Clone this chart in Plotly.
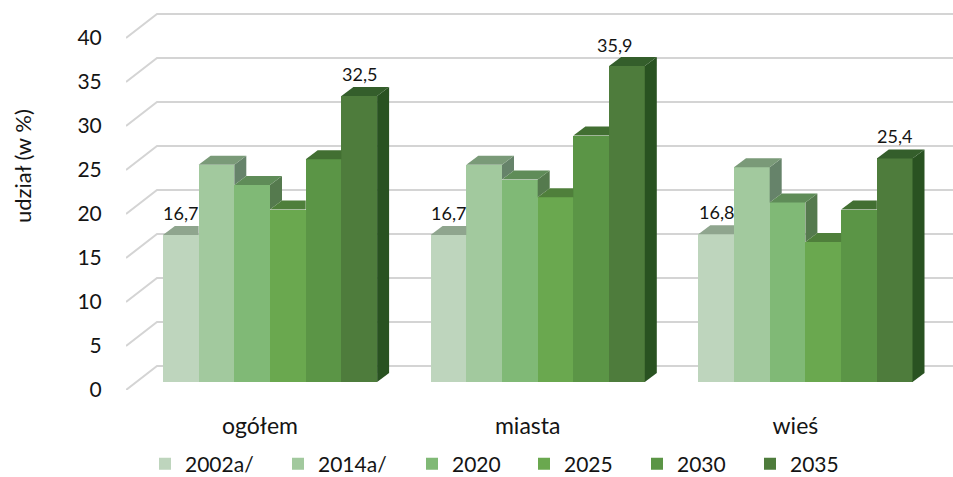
import plotly.graph_objects as go

categories = ["ogółem", "miasta", "wieś"]
series_names = ["2002a/", "2014a/", "2020", "2025", "2030", "2035"]
v2002 = [16.7, 16.7, 16.8]
v2014 = [24.7, 24.7, 24.4]
v2020 = [22.4, 23.0, 20.4]
v2025 = [19.6, 21.0, 15.9]
v2030 = [25.3, 28.0, 19.6]
v2035 = [32.5, 35.9, 25.4]
series_values = [v2002, v2014, v2020, v2025, v2030, v2035]
y_ticks = [0, 5, 10, 15, 20, 25, 30, 35, 40]
labelled_series = [0, 5]

front_colors = ["#BED5BD", "#A2C99E", "#80B976", "#6AA84F", "#5B9546", "#4E7C3C"]
top_colors = ["#8FA58E", "#7A9A78", "#5F8C58", "#4F7F3B", "#426F32", "#345E2B"]
side_colors = ["#758A74", "#66836A", "#557A4E", "#456D35", "#3A612C", "#295221"]
grid_color = "#D4D4D4"
text_color = "#141414"
FONT = "Lato"

# figure geometry
W, H = 953, 477
PX_X = 267.7
PX_Y = 8.8
L, T, B = 126, 10, 87
x_lo = (126 - 260) / PX_X
x_hi = (953 - 260) / PX_X
y0_px = 382
front_px = H - B
y_lo = -(front_px - y0_px) / PX_Y
y_hi = (y0_px - T) / PX_Y
bw = 35.7 / PX_X
shift = 10 / PX_X
dx = 12 / PX_X
dy = 9 / PX_Y
wall_x = (157 - 260) / PX_X
wall_y = (y0_px - 366) / PX_Y

fig = go.Figure()

# front faces
for s, (name, vals) in enumerate(zip(series_names, series_values)):
    xs = [g + shift + (s - 2.5) * bw for g in range(len(categories))]
    fig.add_trace(go.Bar(
        x=xs, y=vals, width=bw, name=name,
        marker=dict(color=front_colors[s], line=dict(width=0)),
        legend=("legend" if s == 0 else f"legend{s + 1}"),
        showlegend=True,
        hoverinfo="y",
    ))

# faux depth: tops and sides, derived from the values
for g in range(len(categories)):
    for s, vals in enumerate(series_values):
        v = vals[g]
        xl = g + shift + (s - 2.5) * bw - bw / 2
        xr = xl + bw
        nxt = series_values[s + 1][g] if s < 5 else 0
        if nxt > v:
            px = [xl, xr, xr, xl + dx, xl]
            py = [v, v, v + dy, v + dy, v]
        else:
            px = [xl, xr, xr + dx, xl + dx, xl]
            py = [v, v, v + dy, v + dy, v]
            sx = [xr, xr + dx, xr + dx, xr, xr]
            sy = [v, v + dy, nxt + dy, nxt, v]
            fig.add_trace(go.Scatter(x=sx, y=sy, mode="lines", fill="toself",
                                     fillcolor=side_colors[s], line=dict(width=0),
                                     showlegend=False, hoverinfo="skip"))
        fig.add_trace(go.Scatter(x=px, y=py, mode="lines", fill="toself",
                                 fillcolor=top_colors[s], line=dict(width=0),
                                 showlegend=False, hoverinfo="skip"))

# invisible trace that carries the tick-label axis (front plane)
fig.add_trace(go.Scatter(x=[0], y=[0], yaxis="y2", mode="markers",
                         marker=dict(opacity=0), showlegend=False, hoverinfo="skip"))

# walls and grid
shapes = []
for t in y_ticks:
    shapes.append(dict(type="path", layer="below", xref="x", yref="y",
                       path=f"M{x_lo},{t + y_lo} L{wall_x},{t + wall_y} L{x_hi},{t + wall_y}",
                       line=dict(color=grid_color, width=2)))

# data labels (the tallest bar's label sits left of the bar's centre in the original)
annotations = []
for s in labelled_series:
    for g in range(len(categories)):
        v = series_values[s][g]
        tallest = v == max(max(vals) for vals in series_values)
        annotations.append(dict(
            x=g + shift + (s - 2.5) * bw, y=v, xref="x", yref="y",
            text=f"{v:.1f}".replace(".", ","), showarrow=False,
            yshift=21 if tallest else 22, xshift=-12 if tallest else 0,
            font=dict(family=FONT, size=18, color=text_color)))
annotations.append(dict(
    x=(22 - L) / (W - L), y=(H - B - 166) / (H - B - T), xref="paper", yref="paper",
    xanchor="center", yanchor="middle", text="udział (w %)",
    showarrow=False, textangle=-90,
    font=dict(family=FONT, size=22, color=text_color)))

fig.update_layout(
    width=W, height=H, barmode="overlay", bargap=0,
    paper_bgcolor="white", plot_bgcolor="white",
    margin=dict(l=L, r=0, t=T, b=B, autoexpand=False),
    font=dict(family=FONT, color=text_color),
    hovermode="closest",
    shapes=shapes, annotations=annotations,
    xaxis=dict(range=[x_lo, x_hi], tickmode="array", tickvals=list(range(len(categories))),
               ticktext=categories, ticks="outside", ticklen=15, tickcolor="white",
               showgrid=False, zeroline=False, showline=False,
               tickfont=dict(family=FONT, size=23, color=text_color)),
    yaxis=dict(range=[y_lo, y_hi], showticklabels=False, showgrid=False,
               zeroline=False, showline=False, ticks=""),
    yaxis2=dict(range=[0, y_hi - y_lo], overlaying="y", side="left",
                tickmode="array", tickvals=y_ticks, ticktext=[str(t) for t in y_ticks],
                ticks="outside", ticklen=19, tickcolor="white",
                showgrid=False, zeroline=False, showline=False,
                tickfont=dict(family=FONT, size=21, color=text_color)),
)

legend_px = [145, 278, 412, 524, 637, 750]
legend_y_px = 464
for s, px in enumerate(legend_px):
    key = "legend" if s == 0 else f"legend{s + 1}"
    fig.update_layout({key: dict(
        x=(px - L) / (W - L), y=(H - B - legend_y_px) / (H - B - T),
        xanchor="left", yanchor="middle",
        bgcolor="rgba(0,0,0,0)", borderwidth=0, entrywidth=100, entrywidthmode="pixels",
        font=dict(family=FONT, size=21, color=text_color),
    )})

fig.write_html("out.html", config={"displayModeBar": False},
               post_script="document.body.style.margin='0';")
